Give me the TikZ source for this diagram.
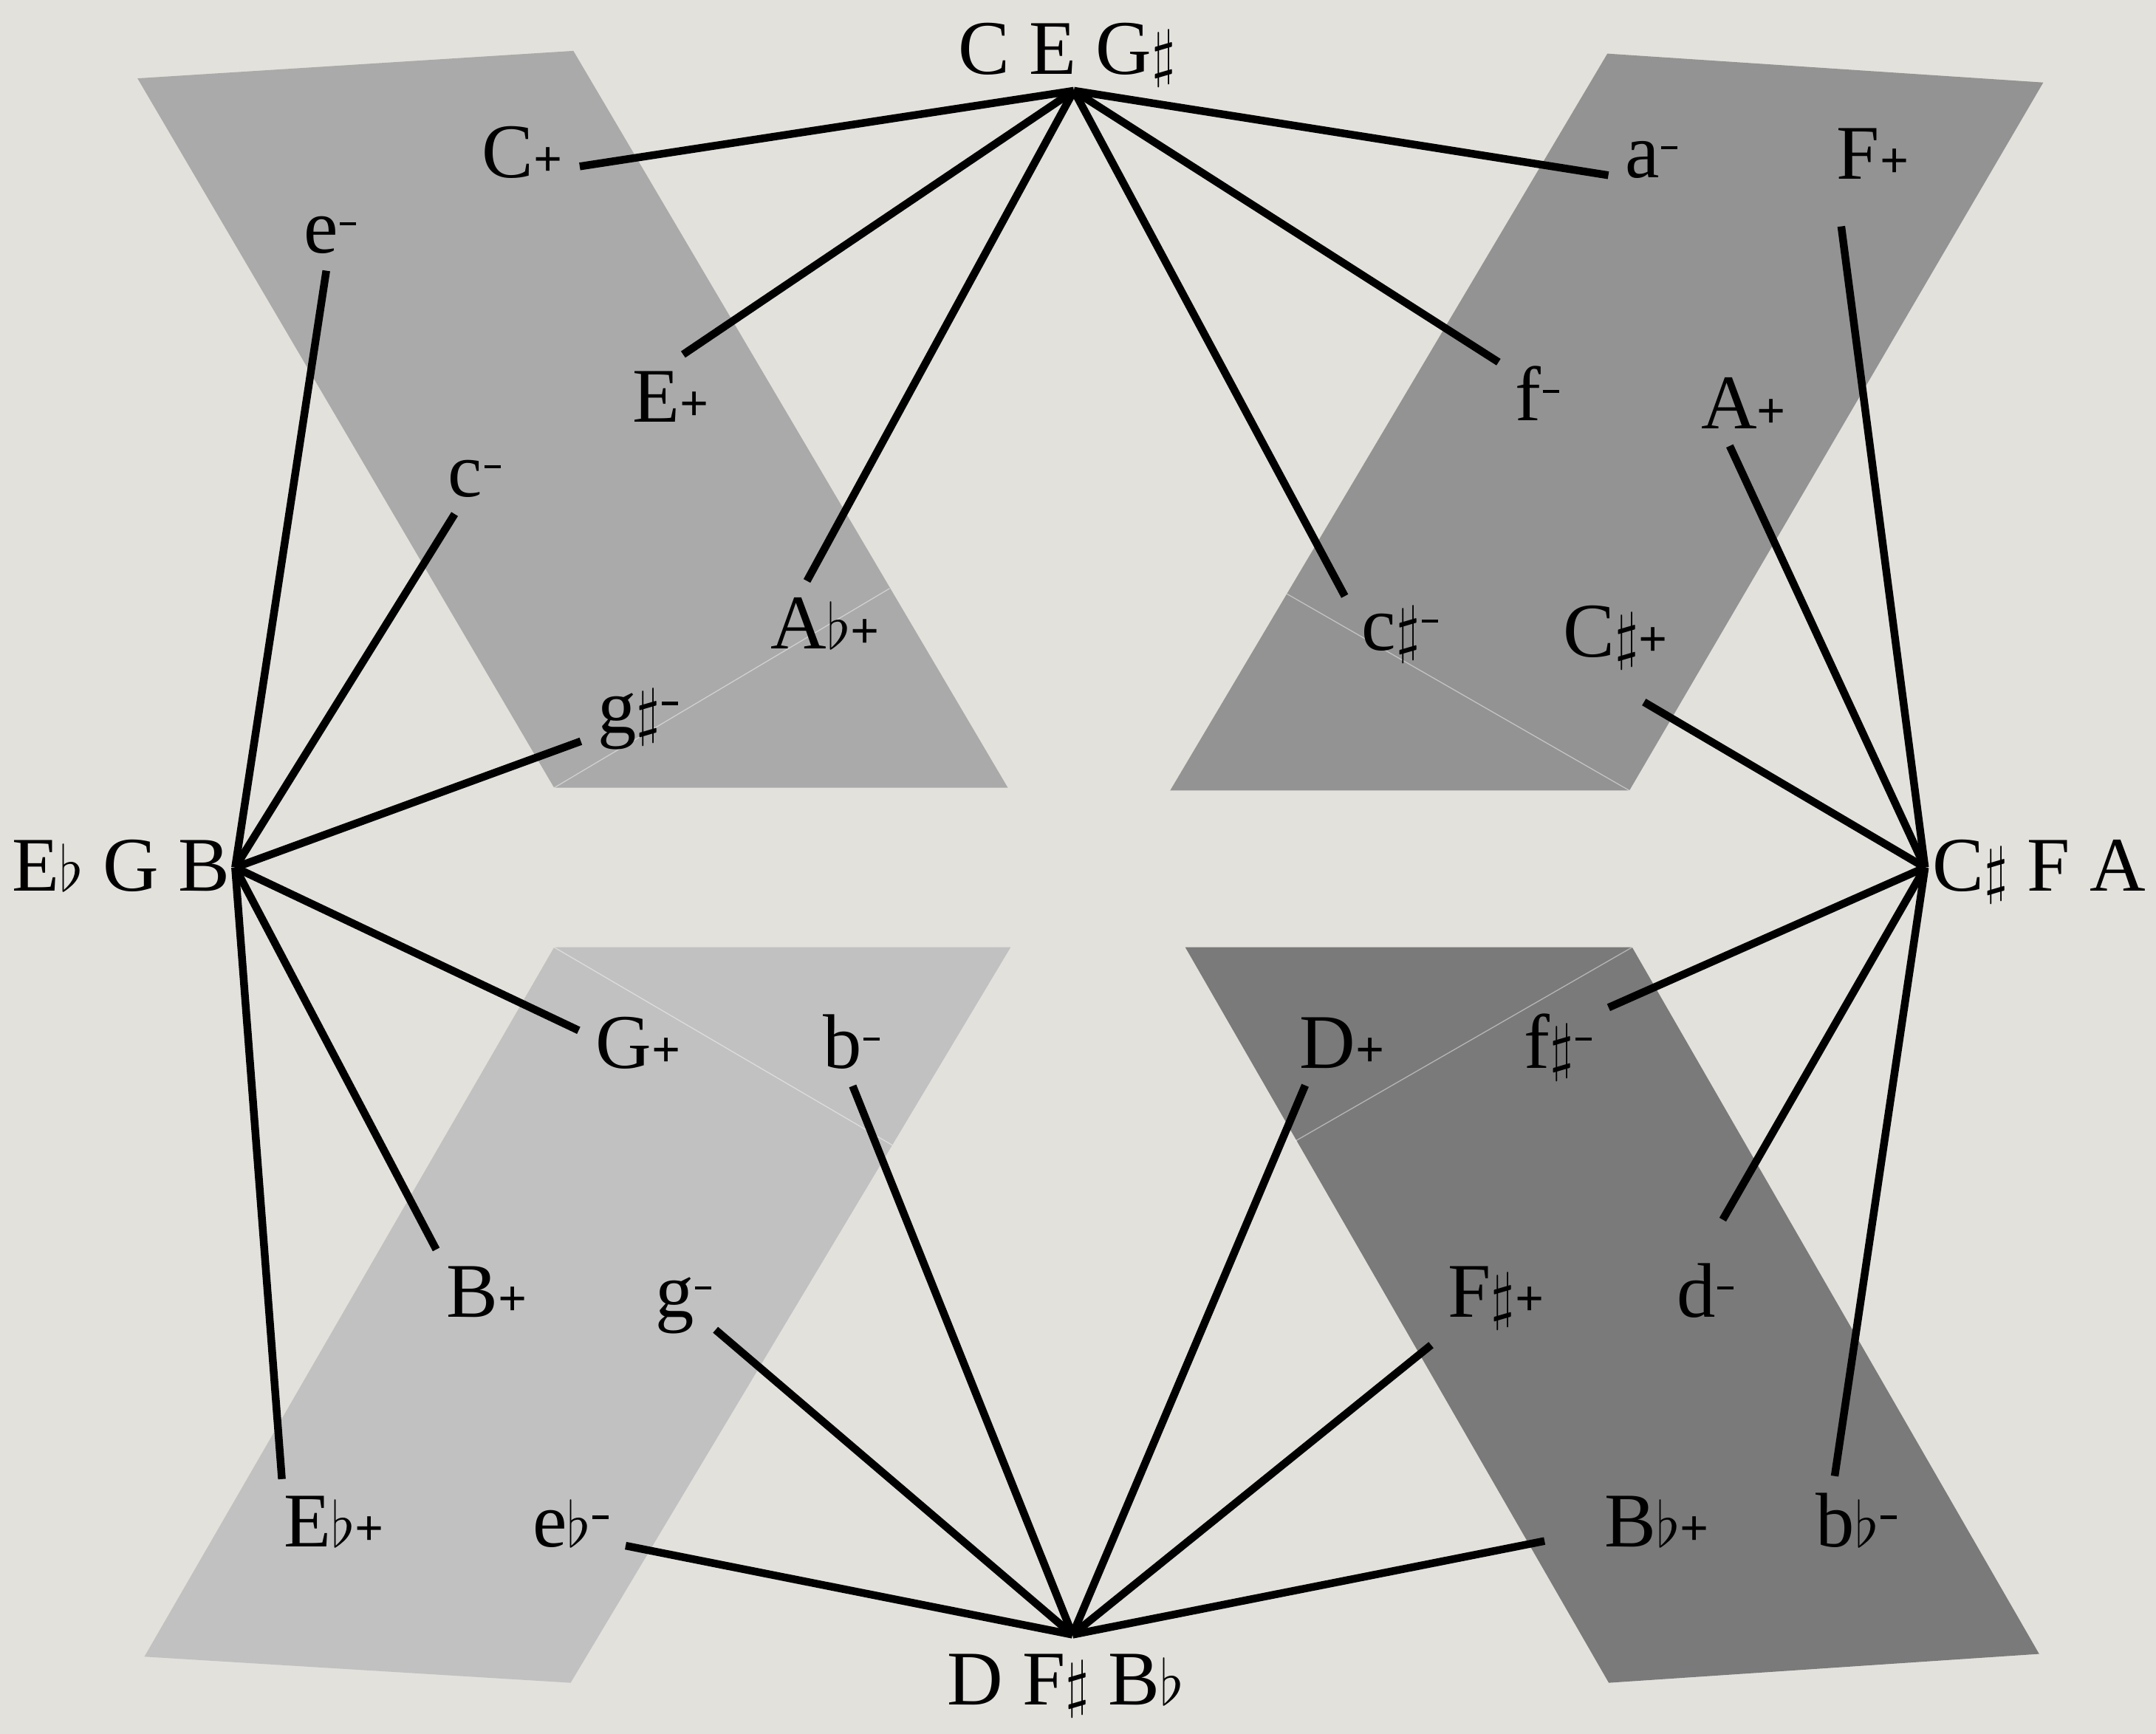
\RequirePackage{fix-cm}
\documentclass[tikz,border=0pt]{standalone}
\usepackage{fontspec}
\setmainfont{Liberation Serif}
\usetikzlibrary{positioning}

\definecolor{paper}{RGB}{227,225,220}
\definecolor{shadeA}{RGB}{170,170,170}
\definecolor{shadeB}{RGB}{147,147,147}
\definecolor{shadeC}{RGB}{193,193,193}
\definecolor{shadeD}{RGB}{122,122,122}

\newcommand{\shp}{{\fontsize{26}{26}\selectfont$\sharp$}}
\newcommand{\flt}{{\fontsize{26}{26}\selectfont$\flat$}}
\newcommand{\pls}{\raisebox{0.5pt}{\fontsize{21}{21}\selectfont\bfseries+}}
\newcommand{\mns}{\kern0.02em\rule[0.36em]{0.21em}{0.04em}}

\begin{document}
\begin{tikzpicture}[x=0.2mm, y=-0.2mm,
    every node/.style={font=\fontsize{32}{38}\selectfont},
    chord/.style={anchor=base, inner sep=2.4mm},
    link/.style={line width=3.2pt},
    seam/.style={draw=white, draw opacity=0.45, line width=0.4pt}]

  % paper
  \useasboundingbox (0,0) rectangle (1568,1261);
  \fill[paper] (0,0) rectangle (1568,1261);

  % shaded regions
  \fill[shadeA] (100,57) -- (417,37) -- (733,573) -- (403,573) -- cycle;
  \draw[seam] (403,573) -- (647,428);
  \fill[shadeB] (1169,39) -- (1486,60) -- (1185,575) -- (851,575) -- cycle;
  \draw[seam] (1185,575) -- (936,432);
  \fill[shadeC] (403,689) -- (735,689) -- (415,1224) -- (105,1205) -- cycle;
  \draw[seam] (403,689) -- (649,833);
  \fill[shadeD] (862,689) -- (1187,689) -- (1483,1203) -- (1170,1224) -- cycle;
  \draw[seam] (1187,689) -- (942,830);

  % hubs
  \coordinate (hT) at (781,66);
  \coordinate (hL) at (171,631);
  \coordinate (hR) at (1400,631);
  \coordinate (hB) at (780,1189);
  \node[chord] (ceg) at (776,54) {C E G\shp};
  \node[chord] (ebgb) at (88,648) {E\flt\ G B};
  \node[chord] (csfa) at (1483,648) {C\shp\ F A};
  \node[chord] (dfsbb) at (775,1240) {D F\shp\ B\flt};

  % top left
  \node[chord] (Cp) at (380,129) {C\pls};
  \node[chord] (em) at (240,184) {e\mns};
  \node[chord] (Ep) at (488,307) {E\pls};
  \node[chord] (cm) at (345,361) {c\mns};
  \node[chord] (Abp) at (600,472) {A\flt\pls};
  \node[chord] (gsm) at (464,533) {g\shp\mns};

  % top right
  \node[chord] (am) at (1201,129) {a\mns};
  \node[chord] (Fp) at (1362,130) {F\pls};
  \node[chord] (fm) at (1118,306) {f\mns};
  \node[chord] (Ap) at (1268,312) {A\pls};
  \node[chord] (csm) at (1018,473) {c\shp\mns};
  \node[chord] (Csp) at (1175,478) {C\shp\pls};

  % bottom left
  \node[chord] (Gp) at (464,777) {G\pls};
  \node[chord] (bm) at (619,777) {b\mns};
  \node[chord] (Bp) at (354,958) {B\pls};
  \node[chord, inner sep=0.5mm] (gm) at (497,958) {g\mns};
  \node[chord] (Ebp) at (243,1125) {E\flt\pls};
  \node[chord] (ebm) at (415,1125) {e\flt\mns};

  % bottom right
  \node[chord] (Dp) at (976,777) {D\pls};
  \node[chord] (fsm) at (1133,777) {f\shp\mns};
  \node[chord] (Fsp) at (1088,958) {F\shp\pls};
  \node[chord] (dm) at (1240,958) {d\mns};
  \node[chord] (Bbp) at (1205,1125) {B\flt\pls};
  \node[chord] (bbm) at (1350,1125) {b\flt\mns};

  % links
  \foreach \n/\a in {Cp/-14, Ep/74, Abp/113, csm/145, fm/141, am/200}
    \draw[link] (hT) -- (\n.\a);
  \foreach \n/\a in {em/-96, cm/-119, gsm/-159, Gp/168, Bp/140, Ebp/141}
    \draw[link] (hL) -- (\n.\a);
  \foreach \n/\a in {Ap/-108, fsm/38, bbm/116}
    \draw[link] (hR) -- (\n.\a);
  \foreach \n/\a in {Fp/-130, Csp/-88, dm/87}
    \draw[link, shorten >=4.5mm] (hR) -- (\n.\a);
  \foreach \n/\a in {bm/-88, gm/-37, ebm/-22, Dp/-131, Fsp/-144}
    \draw[link] (hB) -- (\n.\a);
  \draw[link, shorten >=6.4mm] (hB) -- (Bbp.189);
\end{tikzpicture}
\end{document}
